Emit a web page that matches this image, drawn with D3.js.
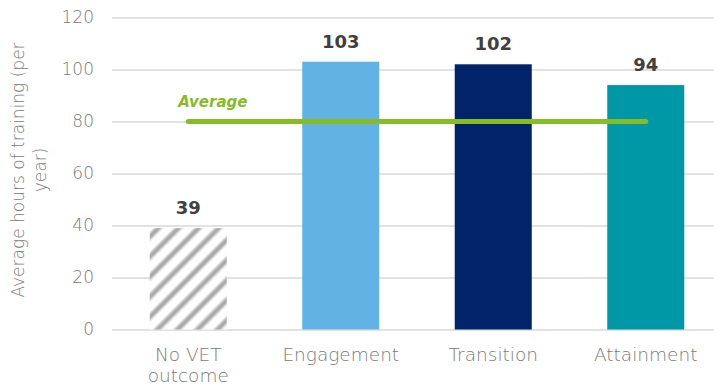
<!DOCTYPE html>
<html>
<head>
<meta charset="utf-8">
<script src="https://cdn.jsdelivr.net/npm/d3@7"></script>
<style>
  html, body { margin: 0; padding: 0; background: #fff; }
  svg { display: block; }
</style>
</head>
<body>
<svg id="chart" width="714" height="384"></svg>
<script>
// Average annual training hours by VET outcome
const categories = ["No VET outcome", "Engagement", "Transition", "Attainment"];
const categoryLines = [["No VET", "outcome"], ["Engagement"], ["Transition"], ["Attainment"]];
const hours = [39, 103, 102, 94];
const barColors = ["hatch", "#62b3e4", "#002369", "#0097a7"];
const averageHours = 80;
const yTicks = [0, 20, 40, 60, 80, 100, 120];
const yTitleLines = ["Average hours of training (per", "year)"];

const svg = d3.select("#chart");
const lightFont = "'DejaVu Sans', Verdana, sans-serif";

const x = d3.scaleBand()
  .domain(categories)
  .range([112, 722])
  .paddingInner(0.495)
  .paddingOuter(0.2475);

const y = d3.scaleLinear()
  .domain([0, 120])
  .range([329.5, 17.5]);

// diagonal hatch for the "No VET outcome" bar
const defs = svg.append("defs");
const P = 14.2;
const pat = defs.append("pattern")
  .attr("id", "hatch")
  .attr("patternUnits", "userSpaceOnUse")
  .attr("width", P)
  .attr("height", P)
  .attr("patternTransform", "rotate(45)");
pat.append("rect").attr("width", P).attr("height", P).attr("fill", "#ffffff");
pat.append("rect").attr("x", 0).attr("width", 7).attr("height", P).attr("fill", "#dedede");
pat.append("rect").attr("x", 1.5).attr("width", 4).attr("height", P).attr("fill", "#b4b4b4");
pat.append("rect").attr("x", 2.5).attr("width", 2).attr("height", P).attr("fill", "#a8a8a8");

// gridlines
const yAxis = d3.axisLeft(y)
  .tickValues(yTicks)
  .tickSize(-(714 - 112))
  .tickPadding(18)
  .tickFormat(d3.format("d"));

const gy = svg.append("g")
  .attr("transform", "translate(112,0)")
  .call(yAxis);
gy.select(".domain").remove();
gy.selectAll(".tick line")
  .attr("stroke", "#d9d9d9")
  .attr("stroke-width", 1.6);
gy.selectAll(".tick text")
  .attr("fill", "#7a7a7a")
  .attr("font-family", lightFont)
  .attr("font-weight", 200)
  .attr("font-size", 17);

// bars
svg.append("g").selectAll("rect")
  .data(categories)
  .join("rect")
  .attr("x", d => x(d))
  .attr("width", x.bandwidth())
  .attr("y", (d, i) => y(hours[i]))
  .attr("height", (d, i) => y(0) - y(hours[i]))
  .attr("fill", (d, i) => barColors[i] === "hatch" ? "url(#hatch)" : barColors[i]);

// value labels
svg.append("g").selectAll("text")
  .data(categories)
  .join("text")
  .attr("x", d => x(d) + x.bandwidth() / 2)
  .attr("y", (d, i) => y(hours[i]) - 14)
  .attr("text-anchor", "middle")
  .attr("font-family", lightFont)
  .attr("font-weight", "bold")
  .attr("font-size", 18)
  .attr("fill", "#404040")
  .text((d, i) => hours[i]);

// average line
const firstC = x(categories[0]) + x.bandwidth() / 2;
const lastC = x(categories[categories.length - 1]) + x.bandwidth() / 2;
svg.append("line")
  .attr("x1", firstC)
  .attr("x2", lastC)
  .attr("y1", y(averageHours))
  .attr("y2", y(averageHours))
  .attr("stroke", "#86bc25")
  .attr("stroke-width", 5)
  .attr("stroke-linecap", "round");

svg.append("text")
  .attr("x", firstC - 10)
  .attr("y", y(averageHours) - 15)
  .attr("font-family", lightFont)
  .attr("font-weight", "bold")
  .attr("font-style", "italic")
  .attr("font-size", 15)
  .attr("fill", "#86bc25")
  .text("Average");

// category labels
const gx = svg.append("g");
categories.forEach((c, i) => {
  const t = gx.append("text")
    .attr("x", x(c) + x.bandwidth() / 2)
    .attr("y", 361)
    .attr("text-anchor", "middle")
    .attr("font-family", lightFont)
    .attr("font-weight", 200)
    .attr("font-size", 18.5)
    .attr("fill", "#7a7a7a");
  categoryLines[i].forEach((ln, j) => {
    t.append("tspan")
      .attr("x", x(c) + x.bandwidth() / 2)
      .attr("dy", j === 0 ? 0 : 20.5)
      .text(ln);
  });
});

// y axis title
const yt = svg.append("text")
  .attr("transform", "translate(24,170) rotate(-90)")
  .attr("text-anchor", "middle")
  .attr("font-family", lightFont)
  .attr("font-weight", 200)
  .attr("font-size", 17)
  .attr("fill", "#7a7a7a");
yTitleLines.forEach((ln, j) => {
  yt.append("tspan")
    .attr("x", 0)
    .attr("dy", j === 0 ? 0 : 22)
    .text(ln);
});
</script>
</body>
</html>
